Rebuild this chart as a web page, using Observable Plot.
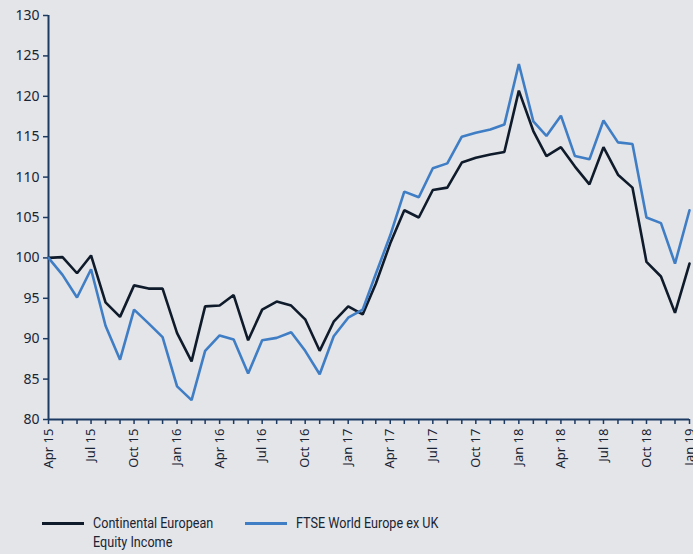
<!DOCTYPE html>
<html>
<head>
<meta charset="utf-8">
<script src="https://cdn.jsdelivr.net/npm/d3@7"></script>
<script src="https://cdn.jsdelivr.net/npm/@observablehq/plot@0.6"></script>
<style>
  html, body { margin: 0; padding: 0; background: #e3e5e9; }
  #wrap { width: 693px; height: 554px; position: relative; background: #e3e5e9; overflow: hidden; }
  #legend { position: absolute; left: 0; top: 514px; width: 693px; font-family: "Roboto", sans-serif; font-size: 15px; color: #1a2433; }
  .item { position: absolute; }
  .sw { position: absolute; left: 0; top: 8px; width: 42px; height: 3px; }
  .lbl { position: absolute; left: 51px; top: 0; line-height: 19px; transform: scaleX(0.84); transform-origin: 0 0; white-space: nowrap; }
</style>
</head>
<body>
<div id="wrap">
  <div id="chart"></div>
  <div id="legend"></div>
</div>
<script>
const seriesNames = ["Continental European Equity Income", "FTSE World Europe ex UK"];
const seriesColors = ["#0f1b2b", "#3f7dc5"];
const startMonth = "2015-04";
const endMonth = "2019-01";
const equityIncome = [100.0, 100.1, 98.1, 100.3, 94.5, 92.7, 96.6, 96.2, 96.2, 90.7, 87.2, 94.0, 94.1, 95.4, 89.8, 93.6, 94.6, 94.1, 92.4, 88.5, 92.1, 94.0, 93.0, 96.8, 101.8, 105.9, 105.0, 108.4, 108.7, 111.8, 112.4, 112.8, 113.1, 120.7, 115.7, 112.6, 113.7, 111.3, 109.1, 113.7, 110.3, 108.7, 99.5, 97.7, 93.2, 99.3];
const ftseEurope = [100.0, 97.9, 95.1, 98.6, 91.6, 87.4, 93.6, 91.9, 90.2, 84.1, 82.4, 88.5, 90.4, 89.9, 85.7, 89.8, 90.1, 90.8, 88.5, 85.6, 90.3, 92.6, 93.6, 98.0, 102.8, 108.2, 107.5, 111.1, 111.7, 115.0, 115.5, 115.9, 116.5, 124.0, 116.9, 115.1, 117.6, 112.6, 112.2, 117.0, 114.3, 114.1, 105.0, 104.3, 99.3, 105.9];
const yTicks = [80, 85, 90, 95, 100, 105, 110, 115, 120, 125, 130];

const parseM = d3.utcParse("%Y-%m");
const t0 = parseM(startMonth), t1 = parseM(endMonth);
const months = d3.utcMonth.range(t0, d3.utcMonth.offset(t1, 1));
const data = [];
months.forEach((d, i) => {
  data.push({date: d, value: equityIncome[i], series: seriesNames[0]});
  data.push({date: d, value: ftseEurope[i], series: seriesNames[1]});
});
const fmt = d3.utcFormat("%b %y");
const axisColor = "#1d3a63";

const chart = Plot.plot({
  width: 693,
  height: 482,
  marginLeft: 48,
  marginRight: 4,
  marginTop: 15,
  marginBottom: 63,
  style: {background: "transparent", fontFamily: "'Noto Sans', sans-serif", fontSize: "13px", color: "#1a2433"},
  x: {type: "utc", domain: [t0, t1]},
  y: {domain: [80, 130]},
  color: {domain: seriesNames, range: seriesColors},
  marks: [
    Plot.axisY({ticks: yTicks, tickSize: 5, tickPadding: 4, stroke: axisColor, strokeWidth: 1.5, label: null, fontSize: 14}),
    Plot.axisX({ticks: months, tickSize: 5, tickPadding: 4, stroke: axisColor, strokeWidth: 1.5, label: null, tickRotate: -90,
      tickFormat: d => d.getUTCMonth() % 3 === 0 ? fmt(d) : "", fontSize: 13}),
    Plot.ruleX([t0], {y1: 80, y2: 130, stroke: axisColor, strokeWidth: 2}),
    Plot.ruleY([80], {stroke: axisColor, strokeWidth: 2}),
    Plot.line(data, {x: "date", y: "value", z: "series", stroke: "series", strokeWidth: 2.6, strokeLinejoin: "miter"})
  ]
});
document.getElementById("chart").appendChild(chart);

const legend = document.getElementById("legend");
const lefts = [42, 245];
const labels = [["Continental European", "Equity Income"], ["FTSE World Europe ex UK"]];
seriesNames.forEach((s, i) => {
  const it = document.createElement("div");
  it.className = "item";
  it.style.left = lefts[i] + "px";
  const sw = document.createElement("div");
  sw.className = "sw";
  sw.style.background = seriesColors[i];
  const lb = document.createElement("div");
  lb.className = "lbl";
  lb.innerHTML = labels[i].join("<br>");
  it.appendChild(sw); it.appendChild(lb);
  legend.appendChild(it);
});
</script>
</body>
</html>
